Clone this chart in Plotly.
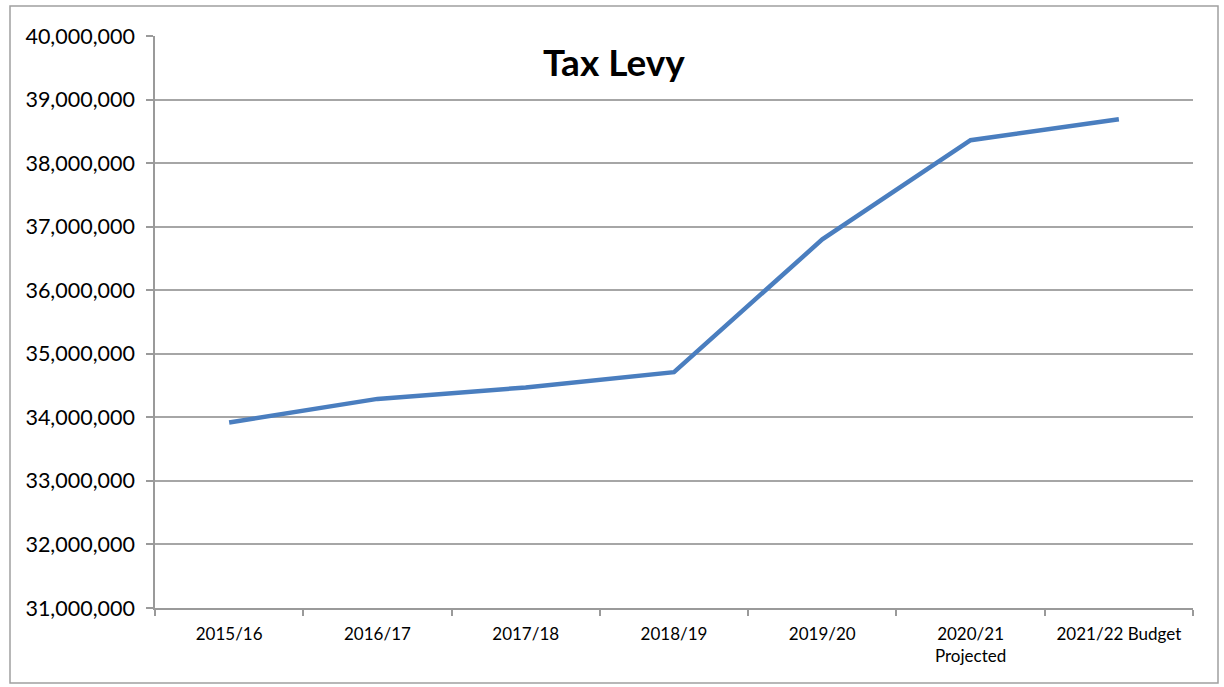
import plotly.graph_objects as go

categories = ["2015/16", "2016/17", "2017/18", "2018/19", "2019/20", "2020/21<br>Projected", "2021/22 Budget"]
tax_levy = [33920000, 34290000, 34470000, 34710000, 36800000, 38360000, 38690000]
y_ticks = [31000000, 32000000, 33000000, 34000000, 35000000, 36000000, 37000000, 38000000, 39000000, 40000000]

W, H = 1224, 687
L, R, T, B = 155, 31, 36, 79
pw, ph = W - L - R, H - T - B

def px_x(x):
    return (x - L) / pw

def px_y(y):
    return (H - B - y) / ph

fig = go.Figure()
fig.add_trace(go.Scatter(
    x=categories, y=tax_levy, mode="lines",
    line=dict(color="#4A7EBF", width=4.5),
    hoverinfo="x+y", showlegend=False,
))

fig.update_layout(
    width=W, height=H,
    margin=dict(l=L, r=R, t=T, b=B),
    paper_bgcolor="white", plot_bgcolor="white",
    font=dict(family="Lato, 'Open Sans', sans-serif", color="black"),
    xaxis=dict(
        type="category", range=[-0.5, 6.5],
        showgrid=False, showline=True, linecolor="#9a9a9a", linewidth=1.5,
        ticks="outside", tickson="boundaries", ticklen=6, tickcolor="#9a9a9a", tickwidth=1.5,
        tickfont=dict(size=17, color="black"), ticklabelstandoff=10, fixedrange=True,
    ),
    yaxis=dict(
        range=[31000000, 40000000], tickvals=y_ticks,
        ticktext=[f"{v:,}" for v in y_ticks],
        showgrid=True, gridcolor="#a6a6a6", gridwidth=1.5,
        showline=True, linecolor="#9a9a9a", linewidth=1.5,
        ticks="outside", ticklen=7, tickcolor="#9a9a9a", tickwidth=1.5,
        tickfont=dict(size=21.5, color="black"), ticklabelstandoff=7,
        zeroline=False, fixedrange=True,
    ),
    annotations=[dict(
        text="<b>Tax Levy</b>", xref="paper", yref="paper",
        x=px_x(614), y=px_y(61), xanchor="center", yanchor="middle",
        showarrow=False, font=dict(size=37, color="black", family="Lato, sans-serif"),
    )],
    shapes=[dict(
        type="rect", xref="paper", yref="paper",
        x0=px_x(10), x1=px_x(1218), y0=px_y(683), y1=px_y(6),
        line=dict(color="#a0a0a0", width=1.5), fillcolor="rgba(0,0,0,0)", layer="below",
    )],
)

fig.write_html("out.html")
